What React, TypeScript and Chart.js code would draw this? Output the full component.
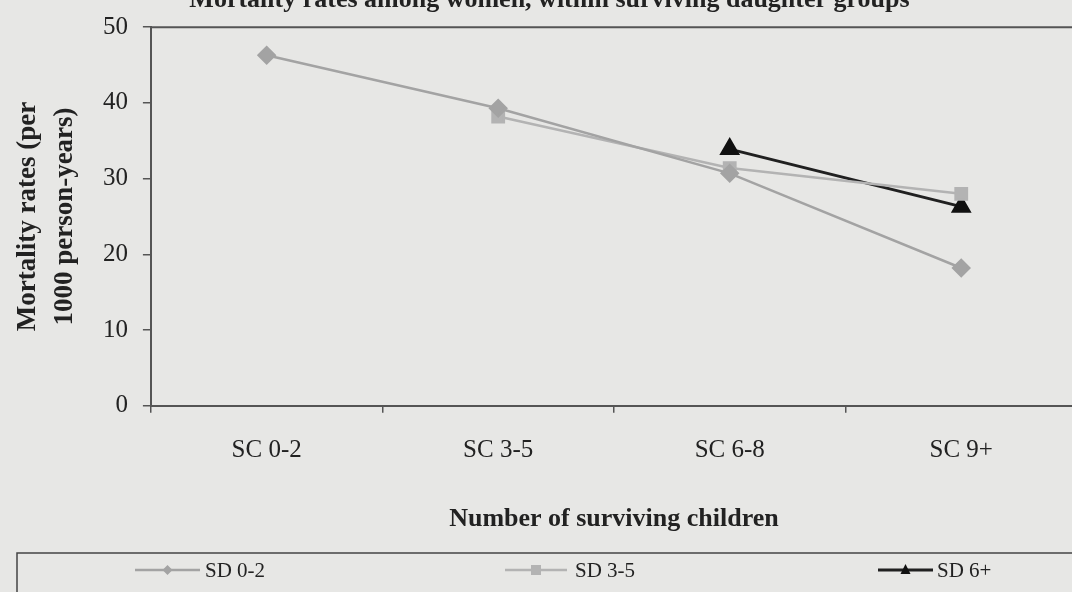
import React, { useEffect, useRef } from "react";
import { Chart, registerables } from "chart.js";

Chart.register(...registerables);

const categories = ["SC 0-2", "SC 3-5", "SC 6-8", "SC 9+"];
const sd02 = [46.3, 39.3, 30.7, 18.2];
const sd35 = [null, 38.2, 31.4, 28.0];
const sd6p = [null, null, 33.9, 26.3];
const seriesNames = ["SD 0-2", "SD 3-5", "SD 6+"];
const yTicks = [0, 10, 20, 30, 40, 50];

const BG = "#e7e7e5";
const TEXT = "#222222";
const SHIFT = 16;
const W = 1089;

const frame = {
  id: "frame",
  beforeDraw(chart: any) {
    const { ctx, width, height } = chart;
    ctx.save();
    ctx.fillStyle = BG;
    ctx.fillRect(0, 0, width, height);
    ctx.restore();
  },
  afterDraw(chart: any) {
    const { ctx, chartArea } = chart;
    ctx.save();
    // top border of plot area
    ctx.strokeStyle = "#555";
    ctx.lineWidth = 2;
    ctx.beginPath();
    ctx.moveTo(chartArea.left, chartArea.top);
    ctx.lineTo(chart.width + 10, chartArea.top);
    ctx.stroke();

    // legend box
    const top = 553 + SHIFT;
    ctx.strokeStyle = "#444";
    ctx.lineWidth = 1.5;
    ctx.strokeRect(17, top, chart.width + 20, 80);

    const cy = top + 17;
    const items = [
      { x0: 135, x1: 200, tx: 205 },
      { x0: 505, x1: 567, tx: 575 },
      { x0: 878, x1: 933, tx: 937 },
    ];
    chart.data.datasets.forEach((ds: any, i: number) => {
      const it = items[i];
      ctx.strokeStyle = ds.borderColor;
      ctx.lineWidth = ds.borderWidth;
      ctx.beginPath();
      ctx.moveTo(it.x0, cy);
      ctx.lineTo(it.x1, cy);
      ctx.stroke();
      const mx = (it.x0 + it.x1) / 2;
      ctx.fillStyle = ds.pointBackgroundColor;
      ctx.strokeStyle = ds.pointBorderColor;
      ctx.lineWidth = 1;
      const r = 5;
      ctx.beginPath();
      if (ds.pointStyle === "rectRot") {
        ctx.moveTo(mx, cy - r);
        ctx.lineTo(mx + r, cy);
        ctx.lineTo(mx, cy + r);
        ctx.lineTo(mx - r, cy);
        ctx.closePath();
      } else if (ds.pointStyle === "rect") {
        ctx.rect(mx - r, cy - r, 2 * r, 2 * r);
      } else {
        ctx.moveTo(mx, cy - r - 1);
        ctx.lineTo(mx + r, cy + r - 1);
        ctx.lineTo(mx - r, cy + r - 1);
        ctx.closePath();
      }
      ctx.fill();
      ctx.fillStyle = TEXT;
      ctx.font = "21px 'Liberation Serif', serif";
      ctx.textBaseline = "middle";
      ctx.textAlign = "left";
      ctx.fillText(ds.label, it.tx, cy + 1);
    });
    ctx.restore();
  },
};

export default function App() {
  const ref = useRef<HTMLCanvasElement | null>(null);

  useEffect(() => {
    if (!ref.current) return;
    const serif = "'Liberation Serif', 'Times New Roman', serif";
    const chart = new Chart(ref.current, {
      type: "line",
      data: {
        labels: categories,
        datasets: [
          {
            label: seriesNames[0],
            data: sd02,
            borderColor: "#a3a3a3",
            backgroundColor: "#a3a3a3",
            pointBackgroundColor: "#a3a3a3",
            pointBorderColor: "#a3a3a3",
            pointStyle: "rectRot",
            pointRadius: 8,
            borderWidth: 2.5,
          },
          {
            label: seriesNames[1],
            data: sd35,
            borderColor: "#b3b3b3",
            backgroundColor: "#b3b3b3",
            pointBackgroundColor: "#b3b3b3",
            pointBorderColor: "#b3b3b3",
            pointStyle: "rect",
            pointRadius: 8,
            borderWidth: 2.5,
          },
          {
            label: seriesNames[2],
            data: sd6p,
            borderColor: "#202020",
            backgroundColor: "#111111",
            pointBackgroundColor: "#111111",
            pointBorderColor: "#111111",
            pointStyle: "triangle",
            pointRadius: 9,
            borderWidth: 3,
          },
        ],
      },
      options: {
        animation: false,
        responsive: false,
        maintainAspectRatio: false,
        spanGaps: false,
        layout: { padding: { left: 10, right: 0, top: 0, bottom: 53 } },
        plugins: {
          legend: { display: false },
          tooltip: { enabled: false },
          title: {
            display: true,
            text: "Mortality rates among women, within surviving daughter groups",
            color: TEXT,
            font: { family: serif, size: 26, weight: "bold" },
            padding: { top: 1, bottom: 11 },
          },
        },
        scales: {
          x: {
            offset: true,
            grid: {
              display: true,
              offset: true,
              drawOnChartArea: false,
              drawTicks: true,
              tickLength: 7,
              color: "#555",
              lineWidth: 1.5,
            },
            border: { display: true, color: "#555", width: 2 },
            ticks: {
              color: TEXT,
              padding: 23,
              font: { family: serif, size: 25 },
            },
            title: {
              display: true,
              text: "Number of surviving children",
              color: TEXT,
              font: { family: serif, size: 26, weight: "bold" },
              padding: { top: 15, bottom: 4 },
            },
          },
          y: {
            min: 0,
            max: 50,
            afterBuildTicks: (scale: any) => {
              scale.ticks = yTicks.map((v) => ({ value: v }));
            },
            grid: {
              display: true,
              drawOnChartArea: false,
              drawTicks: true,
              tickLength: 8,
              color: "#555",
              lineWidth: 1.5,
            },
            border: { display: true, color: "#555", width: 2 },
            ticks: {
              color: TEXT,
              padding: 15,
              font: { family: serif, size: 25 },
            },
            title: {
              display: true,
              text: ["Mortality rates (per", "1000 person-years)"],
              color: TEXT,
              font: { family: serif, size: 27, weight: "bold", lineHeight: 1.35 },
              padding: { top: 0, bottom: 5 },
            },
          },
        },
      },
      plugins: [frame],
    });
    return () => chart.destroy();
  }, []);

  return (
    <div
      style={{
        position: "fixed",
        left: 0,
        top: -SHIFT,
        width: W,
        height: 592 + SHIFT,
        background: BG,
        overflow: "hidden",
      }}
    >
      <canvas ref={ref} width={W} height={592 + SHIFT} style={{ display: "block" }} />
    </div>
  );
}
